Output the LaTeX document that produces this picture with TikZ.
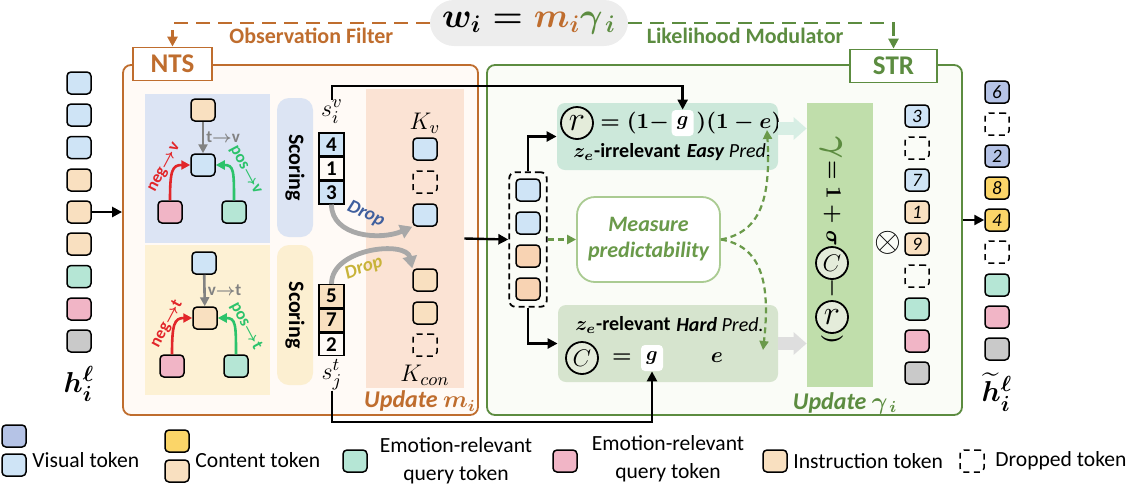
\documentclass[tikz,border=0pt]{standalone}
\usepackage{amsmath,amssymb,bm}
\usepackage{fontspec}
\setmainfont{Carlito}
\usepackage{xcolor}
\usepackage{tikz}
\usetikzlibrary{arrows.meta,positioning,calc,fit,backgrounds}

\definecolor{vislt}{HTML}{CFE4F6}
\definecolor{visdk}{HTML}{B5C3E6}
\definecolor{insbg}{HTML}{F9E0C0}
\definecolor{peach}{HTML}{F8D3B3}
\definecolor{conyl}{HTML}{FBD568}
\definecolor{qteal}{HTML}{B5E6D5}
\definecolor{qpink}{HTML}{F1B5C6}
\definecolor{tgray}{HTML}{C9C9C9}
\definecolor{ntsor}{HTML}{BF6D2E}
\definecolor{ntsfill}{HTML}{FFFAF6}
\definecolor{strgr}{HTML}{5C8C40}
\definecolor{strfill}{HTML}{FAFCF7}
\definecolor{lgtgr}{HTML}{AACB92}
\definecolor{mgreen}{HTML}{6A9A4A}
\definecolor{panblue}{HTML}{DCE4F4}
\definecolor{panyel}{HTML}{FDF1D4}
\definecolor{scblue}{HTML}{DCE4F3}
\definecolor{scyel}{HTML}{FCEFD1}
\definecolor{panupd}{HTML}{FBE3D4}
\definecolor{easyfill}{HTML}{CCE8DA}
\definecolor{hardfill}{HTML}{D6E4CE}
\definecolor{gamfill}{HTML}{C0DEAB}
\definecolor{circfill}{HTML}{E4ECDA}
\definecolor{pillgray}{HTML}{EDEDED}
\definecolor{arrgray}{HTML}{828282}
\definecolor{dropgray}{HTML}{A8A8A8}
\definecolor{negred}{HTML}{E2262A}
\definecolor{posgr}{HTML}{2CC36B}
\definecolor{dropbl}{HTML}{3F5F9E}
\definecolor{dropyl}{HTML}{C8B33A}
\definecolor{easyarr}{HTML}{D7EEE4}
\definecolor{hardarr}{HTML}{DEDEDE}

\newcommand{\rsym}{{\fontsize{17}{17}\selectfont$r$}}

\begin{document}
\begin{tikzpicture}[x=0.5pt, y=-0.5pt,
  tok/.style={draw, line width=0.75pt, rounded corners=2pt, minimum width=12pt, minimum height=11pt, inner sep=0pt, font=\fontsize{9.5}{10}\selectfont\itshape},
  vtok/.style={tok, fill=vislt},
  vdtok/.style={tok, fill=visdk},
  itok/.style={tok, fill=insbg},
  petok/.style={tok, fill=peach},
  ytok/.style={tok, fill=conyl},
  qtok/.style={tok, fill=qteal},
  rtok/.style={tok, fill=qpink},
  gtok/.style={tok, fill=tgray},
  dtok/.style={tok, dash pattern=on 3pt off 2.2pt},
  cell/.style={draw, line width=0.75pt, minimum width=12.5pt, minimum height=11.3pt, inner sep=0pt, font=\fontsize{10.5}{10.5}\selectfont\bfseries},
  bigpanel/.style={line width=0.9pt, rounded corners=4pt, inner sep=0pt},
  tagbox/.style={draw, fill=white, line width=0.9pt, minimum height=16.5pt, inner sep=0pt, font=\fontsize{13.5}{13.5}\selectfont\bfseries},
  scpill/.style={rounded corners=6pt, rotate=-90, minimum width=69.5pt, minimum height=18pt, inner sep=0pt, font=\fontsize{11}{11}\selectfont\bfseries},
  toplbl/.style={font=\fontsize{11}{11}\selectfont\bfseries, inner sep=1pt},
  elbl/.style={font=\fontsize{8.5}{9}\selectfont\bfseries, inner sep=1pt},
  mlbl/.style={font=\fontsize{12.5}{12.5}\selectfont, inner sep=0pt},
  leg/.style={font=\fontsize{10.8}{14}\selectfont, inner sep=0pt, align=center},
  arr/.style={line width=1.2pt, -{Triangle[length=5pt,width=5pt]}},
  odash/.style={ntsor, line width=1.3pt, dash pattern=on 7pt off 4pt, -{Triangle[length=5pt,width=5pt]}},
  gdash/.style={strgr, line width=1.3pt, dash pattern=on 7pt off 4pt, -{Triangle[length=5pt,width=5pt]}},
  sdash/.style={mgreen, line width=1.1pt, dash pattern=on 3pt off 2pt, -{Triangle[length=4.5pt,width=4.5pt]}},
  garr/.style={arrgray, line width=1.3pt, -{Triangle[length=4.5pt,width=4.5pt]}},
  narr/.style={negred, line width=1.3pt, -{Triangle[length=4.5pt,width=4.5pt]}},
  parr/.style={posgr, line width=1.3pt, -{Triangle[length=4.5pt,width=4.5pt]}},
  droparr/.style={dropgray, line width=2.4pt, -{Triangle[length=6pt,width=7pt]}},
  blockarr/.style={line width=6.5pt, -{Triangle[length=6.5pt,width=11pt]}},
  circ/.style={circle, draw, line width=0.9pt, fill=circfill, minimum size=16pt, inner sep=0pt, font=\fontsize{13}{13}\selectfont},
  gbox/.style={fill=white, rounded corners=2pt, minimum width=11pt, minimum height=13pt, inner sep=1pt},
  eqtxt/.style={font=\boldmath\fontsize{11}{12}\selectfont, inner sep=0pt},
  predtxt/.style={font=\fontsize{10}{11}\selectfont, inner sep=0pt},
  zetxt/.style={font=\boldmath\fontsize{10}{11}\selectfont\bfseries, inner sep=0pt},
  updlbl/.style={font=\fontsize{12}{12}\selectfont\bfseries\itshape\boldmath, inner sep=0pt},
  rot/.style={rotate=-90, inner sep=0pt, font=\boldmath\fontsize{11}{12}\selectfont}
]
  \useasboundingbox (0,0) rectangle (1142,494);

  % panels
  \node[fill=pillgray, rounded corners=12pt, minimum width=99pt, minimum height=23pt, inner sep=0pt, font=\boldmath\fontsize{17}{17}\selectfont] (wform) at (529,23) {$w_i = {\color{ntsor}m_i}{\color{strgr}\gamma_{\,i}}$};
  \node[bigpanel, draw=ntsor, fill=ntsfill, minimum width=177.5pt, minimum height=175pt] (ntspan) at (300.5,240) {};
  \node[bigpanel, draw=strgr, fill=strfill, minimum width=237.5pt, minimum height=175pt] (strpan) at (724.5,240) {};
  \node[tagbox, draw=ntsor, text=ntsor, minimum width=39.5pt] (nts) at (172.5,64) {NTS};
  \node[tagbox, draw=strgr, text=strgr, minimum width=43.5pt] (str) at (893.5,66) {STR};
  \draw[odash] (wform.west) -| node[pos=0.23, below=1pt, toplbl, text=ntsor] {Observation Filter} (nts.north);
  \draw[gdash] (wform.east) -| node[pos=0.22, below=1pt, toplbl, text=strgr] {Likelihood Modulator} (str.north);

  % input tokens
  \node[vtok] (h1) at (79,83) {};
  \node[vtok] (h2) at (79,115) {};
  \node[vtok] (h3) at (79,147.5) {};
  \node[itok] (h4) at (79,180) {};
  \node[itok] (h5) at (79,212) {};
  \node[itok] (h6) at (79,244) {};
  \node[qtok] (h7) at (79,276.5) {};
  \node[rtok] (h8) at (79,309) {};
  \node[gtok] (h9) at (79,341) {};
  \node[font=\boldmath\fontsize{15}{15}\selectfont] (hlab) at (79,384) {$h_i^{\ell}$};
  \draw[arr] (h5.east) -- (ntspan.west |- h5.east);

  % NTS: scoring graphs
  \node[fill=panblue, minimum width=62.5pt, minimum height=74.5pt, inner sep=0pt] (bluep) at (207.5,168.5) {};
  \node[fill=panyel, minimum width=62.5pt, minimum height=75pt, inner sep=0pt] (yelp) at (207.5,320) {};
  \node[itok] (vt) at (203,110) {};
  \node[vtok] (vc) at (203,165) {};
  \node[rtok] (vn) at (170,212) {};
  \node[qtok] (vp) at (234,212) {};
  \draw[garr] (vt) -- node[right, elbl, text=arrgray] {t$\boldsymbol{\to}$v} (vc);
  \draw[narr] (vn.north) .. controls +(0,-30) and +(-18,0) .. (vc.west);
  \draw[parr] (vp.north) .. controls +(0,-30) and +(18,0) .. (vc.east);
  \node[elbl, text=negred, rotate=62] (vnl) at (165,168) {neg$\boldsymbol{\to}$v};
  \node[elbl, text=posgr, rotate=-62] (vpl) at (245,170) {pos$\boldsymbol{\to}$v};
  \node[vtok] (tv) at (204,263) {};
  \node[itok] (tc) at (205,318) {};
  \node[rtok] (tn) at (172,366) {};
  \node[qtok] (tp) at (236,366) {};
  \draw[garr] (tv) -- node[right, elbl, text=arrgray] {v$\boldsymbol{\to}$t} (tc);
  \draw[narr] (tn.north) .. controls +(0,-30) and +(-18,0) .. (tc.west);
  \draw[parr] (tp.north) .. controls +(0,-30) and +(18,0) .. (tc.east);
  \node[elbl, text=negred, rotate=62] (tnl) at (167,324) {neg$\boldsymbol{\to}$t};
  \node[elbl, text=posgr, rotate=-62] (tpl) at (246,326) {pos$\boldsymbol{\to}$t};

  % NTS: scores and update
  \node[scpill, fill=scblue] (scv) at (295,167.5) {Scoring};
  \node[scpill, fill=scyel, minimum width=70pt] (sct) at (295,315) {Scoring};
  \node[fill=panupd, minimum width=49pt, minimum height=149.5pt, inner sep=0pt] (upd) at (415,238.5) {};
  \node[cell, fill=vislt] (sv1) at (331.5,144.3) {4};
  \node[cell, below=0pt of sv1] (sv2) {1};
  \node[cell, fill=vislt, below=0pt of sv2] (sv3) {3};
  \node[cell, fill=insbg] (sy1) at (331.5,296) {5};
  \node[cell, fill=insbg, below=0pt of sy1] (sy2) {7};
  \node[cell, below=0pt of sy2] (sy3) {2};
  \node[mlbl] (svl) at (332,112) {$s_i^v$};
  \node[mlbl] (stl) at (332,375) {$s_j^t$};
  \node[mlbl] (kvl) at (425,123) {$K_v$};
  \node[vtok] (kv1) at (425,149) {};
  \node[dtok] (kv2) at (425,182) {};
  \node[vtok] (kv3) at (425,215) {};
  \node[itok] (kc1) at (425,280) {};
  \node[itok] (kc2) at (425,313) {};
  \node[dtok] (kc3) at (425,345) {};
  \node[mlbl] (kcl) at (425,375) {$K_{con}$};
  \draw[droparr] (sv3.south) .. controls +(0,32) and +(-32,14) .. (kv3.south west);
  \draw[droparr] (sy1.north) .. controls +(0,-36) and +(-6,-28) .. (kc1.north west);
  \node[elbl, font=\fontsize{9.5}{10}\selectfont\bfseries\itshape, text=dropbl, rotate=-25] (dropv) at (366,214) {Drop};
  \node[elbl, font=\fontsize{9.5}{10}\selectfont\bfseries\itshape, text=dropyl, rotate=20] (dropt) at (364,268) {Drop};
  \node[updlbl, text=ntsor] (updm) at (420,401) {Update $m_i$};

  % STR: token group and predictability
  \node[vtok] (g1) at (528,190) {};
  \node[vtok] (g2) at (528,223) {};
  \node[petok] (g3) at (528,256) {};
  \node[petok] (g4) at (528,289) {};
  \node[draw, dash pattern=on 3pt off 2pt, line width=0.9pt, rounded corners=3pt, inner sep=3pt, fit=(g1)(g4)] (grp) {};
  \draw[arr] (upd.east) -- (grp.west);

  \node[fill=easyfill, rounded corners=4pt, minimum width=110.5pt, minimum height=33.5pt, inner sep=0pt] (easybox) at (667.5,136.5) {};
  \node[circ] (rc1) at (577,123) {\rsym};
  \node[eqtxt, right=3pt of rc1] (eqa) {$=(1-$};
  \node[gbox, right=1pt of eqa] (geasy) {$\boldsymbol{g}$};
  \node[eqtxt, right=1pt of geasy] (eqb) {$)(1-e)$};
  \node[zetxt] (irr) at (627,152) {$z_e$-irrelevant};
  \node[predtxt] (easyp) at (729,152) {\textbf{\textit{Easy}} \textit{Pred.}};

  \node[fill=hardfill, rounded corners=4pt, minimum width=110pt, minimum height=38.5pt, inner sep=0pt] (hardbox) at (668,343.5) {};
  \node[zetxt] (rel) at (623,325) {$z_e$-relevant};
  \node[predtxt] (hardp) at (720,325) {\textbf{\textit{Hard}} \textit{Pred.}};
  \node[circ] (cc1) at (582,358) {$C$};
  \node[eqtxt] (eqc) at (622,358) {$=$};
  \node[gbox] (ghard) at (652,358) {$\boldsymbol{g}$};
  \node[eqtxt] (ehard) at (717,358) {$e$};

  \node[draw=lgtgr, fill=white, line width=0.9pt, rounded corners=9pt, minimum width=71.5pt, minimum height=42.5pt, align=center, text=mgreen, font=\fontsize{11}{13}\selectfont\bfseries\itshape] (meas) at (648.5,239.5) {Measure\\predictability};

  \draw[arr] (grp.north) |- (easybox.west);
  \draw[arr] (grp.south) |- (hardbox.west);
  \draw[sdash] (grp.east) -- (meas.west);
  \coordinate (easyin) at (767,130);
  \coordinate (hardin) at (763,350);
  \draw[sdash] (meas.east) .. controls (760,232) and (771,200) .. (easyin);
  \draw[sdash] (meas.east) .. controls (760,246) and (771,280) .. (hardin);

  \coordinate (toprail) at (500,86);
  \coordinate (botrail) at (500,422);
  \draw[arr] (svl.north) |- (toprail) -| (geasy.north);
  \draw[arr] (stl.south) |- (botrail) -| (ghard.south);

  % STR: gamma update
  \node[fill=gamfill, minimum width=33pt, minimum height=142pt, inner sep=0pt] (gampan) at (840,245) {};
  \coordinate (easyout) at ([yshift=4pt]easybox.east);
  \draw[blockarr, easyarr] (easyout) -- (gampan.west |- easyout);
  \draw[blockarr, hardarr] (hardbox.east) -- (gampan.west |- hardbox.east);
  \node[rot, text=strgr, font=\boldmath\fontsize{18}{18}\selectfont] (gsym) at (831,148) {$\gamma$};
  \node[rot] (geq) at (832,208) {$=1+\sigma($};
  \node[circ] (cc2) at (832,263) {$C$};
  \node[rot] (gmin) at (832,288) {$-$};
  \node[circ] (rc2) at (832,317) {\rsym};
  \node[rot] (gpar) at (832,339) {$)$};
  \node[updlbl, text=strgr] (updg) at (845,403) {Update $\gamma_{\,i}$};

  \node[vtok] (s1) at (917,116) {3};
  \node[dtok] (s2) at (917,148) {};
  \node[vtok] (s3) at (917,180) {7};
  \node[itok] (s4) at (917,212) {1};
  \node[itok] (s5) at (917,244) {9};
  \node[dtok] (s6) at (917,276) {};
  \node[qtok] (s7) at (917,309) {};
  \node[rtok] (s8) at (917,341) {};
  \node[gtok] (s9) at (917,373) {};
  \node[font=\fontsize{17}{17}\selectfont] (otim) at (888,243) {$\otimes$};

  % output tokens
  \node[vdtok] (o1) at (997,92) {6};
  \node[dtok] (o2) at (997,124) {};
  \node[vdtok] (o3) at (997,156) {2};
  \node[ytok] (o4) at (997,188) {8};
  \node[ytok] (o5) at (997,220) {4};
  \node[dtok] (o6) at (997,252) {};
  \node[qtok] (o7) at (997,285) {};
  \node[rtok] (o8) at (997,317) {};
  \node[gtok] (o9) at (997,349) {};
  \node[font=\boldmath\fontsize{15}{15}\selectfont] (olab) at (997,392) {$\widetilde{h}_i^{\ell}$};
  \draw[arr] (strpan.east |- o5) -- (o5.west);

  % legend
  \node[vdtok] (lv1) at (14,436) {};
  \node[vtok] (lv2) at (14,465) {};
  \node[leg, anchor=west] (lvt) at (32,460) {Visual token};
  \node[ytok] (ly1) at (177,441) {};
  \node[itok] (ly2) at (177,471) {};
  \node[leg, anchor=west] (lyt) at (195,460) {Content token};
  \node[qtok] (lq) at (355,461) {};
  \node[leg] (lqt) at (456,461) {Emotion-relevant\\query token};
  \node[rtok] (lr) at (565,461) {};
  \node[leg] (lrt) at (668,459) {Emotion-relevant\\query token};
  \node[itok] (li) at (775,461) {};
  \node[leg, anchor=west] (lit) at (793,461) {Instruction token};
  \node[dtok] (ld) at (972,461) {};
  \node[leg, anchor=west] (ldt) at (995,461) {Dropped token};
\end{tikzpicture}
\end{document}
